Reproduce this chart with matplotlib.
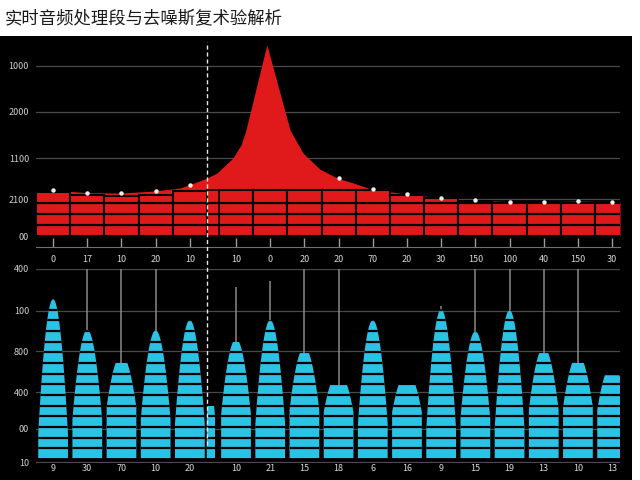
import numpy as np
import matplotlib.pyplot as plt
from matplotlib.patches import Polygon, Rectangle

plt.rcParams['font.family'] = ['Noto Sans CJK SC', 'DejaVu Sans']

title = "实时音频处理段与去噪斯复术验解析"

# --- top panel: segment energy (red bars) + envelope with the spike ---
top_labels = ['0', '17', '10', '20', '10', '10', '0', '20', '20', '70',
              '20', '30', '150', '100', '40', '150', '30']
energy_bars = [1030, 965, 940, 970, 1060, 1075, 1075, 1075, 1075, 1075,
               965, 894, 823, 776, 776, 776, 776]
energy_markers = [1080, 1020, 1010, 1060, 1200, np.nan, np.nan, np.nan, 1365, 1100,
                  990, 900, 847, 807, 800, 824, 807]
# envelope (x in segment units)
envelope_x = [0.0, 0.5, 1.49, 2.49, 3.48, 4.21, 4.47, 5.0, 5.29, 5.76, 6.0,
              6.14, 6.75, 7.43, 7.81, 8.3, 8.8, 9.27, 9.82, 10.82, 11.84,
              12.84, 13.83, 14.85, 15.85, 16.84, 17.08]
envelope_vals = [1050, 1080, 1020, 1010, 1060, 1130, 1200, 1365, 1480, 1835, 2150,
                 2494, 4500, 2494, 1950, 1575, 1365, 1250, 1100, 990, 900,
                 847, 807, 800, 824, 807, 800]
top_ticks = [0, 870, 1835, 2920, 4000]
top_tick_labels = ['00', '2100', '1100', '2000', '1000']

# --- bottom panel: denoised levels (cyan) + upper whiskers ---
bottom_labels = ['9', '30', '70', '10', '20', '10', '21', '15', '18', '6',
                 '16', '9', '15', '19', '13', '10', '13']
denoise_bars = [388, 312, 232, 310, 337, 283, 337, 256, 178, 337,
                178, 363, 307, 361, 256, 232, 202]
denoise_whisker = [np.nan, 461, 461, 461, np.nan, 417, 432, 461, 461, np.nan,
                   np.nan, 371, 461, 461, 461, 461, np.nan]
bottom_ticks = [-10, 71, 161, 261, 359, 461]
bottom_tick_labels = ['10', '00', '400', '800', '100', '400']

# narrow segment sitting behind the dashed marker
split_after = 5
split_top = 1075
split_bottom = 127

red = '#e01a1a'
cyan = '#2ac3e6'
grid_c = '#4a4a4a'

n = len(top_labels)
gap_w = 0.35
idx = np.arange(n)
xc = idx + 0.5 + np.where(idx >= split_after, gap_w, 0)
x_split = split_after + gap_w / 2
xlim = (0, 17.08)

fig = plt.figure(figsize=(6.4, 4.8), dpi=100)
fig.patch.set_facecolor('white')
fig.add_artist(Rectangle((0, 0), 632 / 640, 444 / 480, transform=fig.transFigure,
                         facecolor='black', edgecolor='none', zorder=-5))
fig.text(0.008, 0.9625, title, fontsize=12.5, color='#1a1a1a', va='center', ha='left')

ax_top = fig.add_axes([0.05625, 0.4854, 0.9125, 0.4313])
ax_bot = fig.add_axes([0.05625, 0.0354, 0.9125, 0.4042])
for ax in (ax_top, ax_bot):
    ax.set_facecolor('none')
    for s in ax.spines.values():
        s.set_visible(False)
    ax.set_xlim(*xlim)
    ax.grid(axis='y', color=grid_c, linewidth=0.9)
    ax.set_axisbelow(True)
    ax.tick_params(axis='y', length=0, pad=5, labelsize=6.5, labelcolor='#cfcfcf')

# top panel
ax_top.fill_between(envelope_x, 0, envelope_vals, color=red, linewidth=0, zorder=1)
ax_top.bar(xc, energy_bars, width=1.0, color=red, edgecolor='black', linewidth=1.5, zorder=2)
ax_top.bar(x_split, split_top, width=gap_w, color=red, edgecolor='black', linewidth=1.2, zorder=2)
stripe_levels = [260, 520, 780]
for c, w, top in list(zip(xc, [1.0] * n, energy_bars)) + [(x_split, gap_w, split_top)]:
    lv = [l for l in stripe_levels if l < top]
    ax_top.hlines(lv, c - w / 2, c + w / 2, color='black', linewidth=1.6, zorder=3)
ax_top.plot(xc, energy_markers, 'o', ms=2.2, color='#f0f0f0', zorder=5)
ax_top.set_ylim(-259, 4612)
ax_top.set_yticks(top_ticks)
ax_top.set_yticklabels(top_tick_labels)
ax_top.set_xticks(xc)
ax_top.set_xticklabels(top_labels)
ax_top.spines['bottom'].set_visible(True)
ax_top.spines['bottom'].set_color('#707070')
ax_top.tick_params(axis='x', direction='in', length=6.5, width=1, color='#9a9a9a',
                   pad=6, labelsize=6.5, labelcolor='#d8d8d8')


# bottom panel: bullet shaped bars
def bullet(ax, c, w, v):
    f = 0.55 + 0.3 * np.clip((v - 232) / 156, 0, 1)
    taper = f * v
    d0 = 0.23 * max(0, 317 - v)
    d = np.linspace(0, v, 80)
    half = w / 2 * np.sqrt(np.minimum(1, (d + d0) / taper))
    y = v - d
    verts = np.vstack([np.column_stack([c + half, y]),
                       np.column_stack([c - half[::-1], y[::-1]])])
    poly = Polygon(verts, closed=True, facecolor=cyan, edgecolor='none', zorder=2)
    ax.add_patch(poly)
    lines = ax.hlines(np.arange(24, v, 26), c - w / 2, c + w / 2, color='black',
                      linewidth=1.6, zorder=3)
    lines.set_clip_path(poly)


wh = np.array(denoise_whisker, dtype=float)
vals = np.array(denoise_bars, dtype=float)
ok = ~np.isnan(wh)
ax_bot.vlines(xc[ok], vals[ok], wh[ok], color='#8a8a8a', linewidth=1.1, zorder=1)
for c, v in zip(xc, denoise_bars):
    bullet(ax_bot, c, 0.87, v)
bullet(ax_bot, x_split - 0.06, 0.24, split_bottom)

ax_bot.set_ylim(-12, 461)
ax_bot.set_yticks(bottom_ticks)
ax_bot.set_yticklabels(bottom_tick_labels)
ax_bot.set_xticks(xc)
ax_bot.set_xticklabels(bottom_labels)
ax_bot.tick_params(axis='x', length=0, pad=1, labelsize=6.5, labelcolor='#d8d8d8')

# dashed marker running through both panels
ax_bot.axvline(split_after, ymin=0.093, ymax=2.17, clip_on=False, color='#e6e6e6',
               linestyle=(0, (3, 2)), linewidth=1, zorder=6)

fig.savefig('out.png', dpi=100)
